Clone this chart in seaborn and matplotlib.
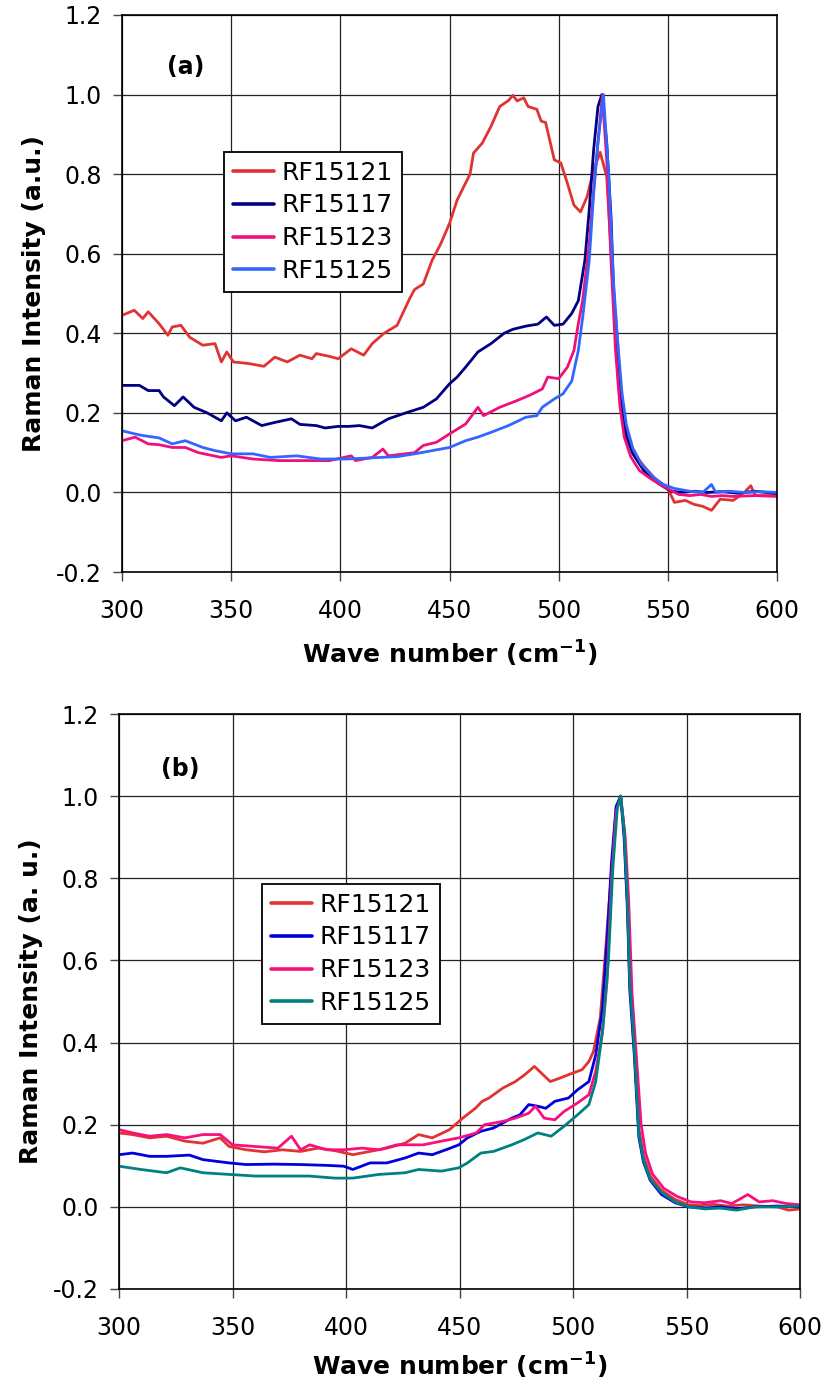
import numpy as np
import pandas as pd
import matplotlib
matplotlib.use("Agg")
import matplotlib.pyplot as plt
from matplotlib.ticker import FormatStrFormatter
import seaborn as sns

# ---------------- data: panel (a) ----------------
a_red_x = [300, 305.6, 309.5, 312, 317, 321, 323, 327, 331, 337, 342.6, 345.5, 348, 351, 358, 365, 370,
           375.7, 381.5, 387, 389, 395, 399, 405, 410.7, 414.6, 420, 426, 432, 434, 438, 442, 446, 450,
           453.5, 459.4, 461, 465, 469, 473, 477, 479, 481, 484, 486, 490, 492, 494, 498, 501, 504, 507,
           510, 513, 516, 519, 522, 525, 527, 529, 531, 534, 537, 540, 545, 550, 553, 558, 562, 566, 570,
           574, 580, 585, 588, 590, 595, 600]
a_red_y = [0.445, 0.458, 0.437, 0.454, 0.424, 0.395, 0.416, 0.42, 0.39, 0.37, 0.374, 0.328, 0.353, 0.328,
           0.324, 0.317, 0.34, 0.328, 0.345, 0.336, 0.349, 0.342, 0.336, 0.361, 0.345, 0.374, 0.40, 0.42,
           0.49, 0.51, 0.524, 0.583, 0.625, 0.676, 0.735, 0.80, 0.853, 0.878, 0.92, 0.97, 0.985, 0.998,
           0.984, 0.992, 0.97, 0.963, 0.933, 0.93, 0.836, 0.828, 0.777, 0.722, 0.705, 0.743, 0.81, 0.855,
           0.794, 0.515, 0.38, 0.21, 0.15, 0.11, 0.08, 0.06, 0.03, 0.01, -0.025, -0.02, -0.03, -0.035,
           -0.045, -0.017, -0.02, 0.0, 0.017, -0.008, -0.008, -0.008]

a_navy_x = [300, 308, 312, 317, 319, 324, 328, 333, 339, 345.5, 348, 352, 357, 364, 370, 377.6, 381.5,
            389, 393, 399, 404, 408.8, 414.6, 422, 430, 438, 444, 450, 453.5, 457.4, 463, 469, 475, 479,
            485, 490.5, 494.4, 498, 502, 506, 509, 512, 514, 516, 518, 519.8, 522, 524, 525.5, 527.5,
            529.4, 531, 534, 539, 545, 551, 556, 562, 568, 575, 582, 590, 600]
a_navy_y = [0.269, 0.269, 0.256, 0.256, 0.24, 0.218, 0.24, 0.214, 0.2, 0.18, 0.2, 0.18, 0.189, 0.168,
            0.176, 0.185, 0.171, 0.168, 0.162, 0.166, 0.166, 0.168, 0.162, 0.185, 0.2, 0.214, 0.235,
            0.273, 0.29, 0.315, 0.353, 0.374, 0.40, 0.41, 0.418, 0.423, 0.441, 0.42, 0.423, 0.45, 0.482,
            0.583, 0.71, 0.86, 0.97, 1.0, 0.88, 0.69, 0.457, 0.27, 0.19, 0.14, 0.097, 0.055, 0.025,
            0.004, 0.0, 0.003, 0.0, 0.002, -0.002, 0.003, -0.003]

a_pink_x = [300, 306, 312, 317, 323, 329, 335, 345.5, 350, 360, 372, 383.5, 395, 405, 407, 414.6, 419.5,
            422, 434, 438, 444, 450, 457.4, 463, 465.6, 473, 481, 486.6, 492.5, 495, 500, 504, 507, 509,
            511, 514, 516, 518, 520, 522, 524, 526, 528, 530, 533, 537, 542, 548, 555, 560, 565, 570, 575,
            580, 590, 600]
a_pink_y = [0.13, 0.139, 0.122, 0.12, 0.113, 0.113, 0.10, 0.088, 0.092, 0.084, 0.08, 0.08, 0.08, 0.092,
            0.08, 0.088, 0.109, 0.092, 0.10, 0.118, 0.126, 0.147, 0.172, 0.214, 0.193, 0.214, 0.231,
            0.244, 0.26, 0.29, 0.286, 0.315, 0.357, 0.424, 0.483, 0.625, 0.76, 0.88, 0.997, 0.836, 0.58,
            0.36, 0.22, 0.14, 0.09, 0.055, 0.035, 0.015, -0.005, -0.008, -0.005, -0.01, -0.008, -0.01,
            -0.008, -0.01]

a_blue_x = [300, 306, 309.5, 317, 323, 329, 337, 342.6, 350, 360, 368, 380, 391, 403, 414.6, 426, 434,
            442, 450, 457.4, 463, 469, 477, 485, 490, 492.5, 498, 502, 506, 509, 511, 514, 516, 518,
            520.5, 523, 525, 527, 529, 531, 534, 538, 543, 548, 553, 560, 566, 570, 572, 578, 585, 592,
            600]
a_blue_y = [0.155, 0.147, 0.143, 0.137, 0.122, 0.13, 0.113, 0.105, 0.097, 0.097, 0.088, 0.092, 0.084,
            0.084, 0.087, 0.09, 0.097, 0.105, 0.113, 0.13, 0.139, 0.151, 0.168, 0.189, 0.193, 0.214,
            0.235, 0.248, 0.28, 0.357, 0.44, 0.583, 0.75, 0.88, 1.0, 0.79, 0.54, 0.38, 0.25, 0.17, 0.11,
            0.07, 0.04, 0.02, 0.01, 0.003, 0.0, 0.02, 0.0, 0.003, 0.0, 0.002, 0.0]

# ---------------- data: panel (b) ----------------
b_red_x = [300, 306, 313.5, 321, 329, 337, 344.6, 348.5, 356, 364, 372, 380, 387.6, 395, 403, 410.6, 418,
           426, 432, 438, 445.6, 451.4, 457, 460, 463, 469, 474.6, 478.6, 483, 486, 490, 494, 500, 504,
           507, 509, 512, 514, 517, 519, 521, 522.5, 524, 525, 527, 529, 531, 534, 539, 545, 551, 556,
           562, 568, 575, 582, 590, 595, 600]
b_red_y = [0.18, 0.176, 0.168, 0.172, 0.16, 0.155, 0.168, 0.147, 0.139, 0.134, 0.139, 0.135, 0.143,
           0.137, 0.127, 0.135, 0.143, 0.155, 0.176, 0.168, 0.188, 0.216, 0.24, 0.257, 0.265, 0.289,
           0.305, 0.321, 0.342, 0.326, 0.305, 0.313, 0.326, 0.334, 0.354, 0.378, 0.46, 0.60, 0.82, 0.97,
           1.0, 0.92, 0.74, 0.55, 0.386, 0.19, 0.125, 0.075, 0.04, 0.018, 0.005, 0.003, 0.006, 0.002,
           0.005, 0.002, 0.0, -0.008, -0.005]

b_blue_x = [300, 306, 313.5, 321, 331, 337, 348.5, 356, 368, 380, 391.6, 399, 403, 410.6, 418, 426, 432,
            438, 444, 449.7, 453.5, 459.4, 465, 469, 473, 476.6, 480.5, 484.5, 488, 492, 498, 502, 507,
            510, 513, 515, 517, 519, 521, 522.5, 524, 525, 527, 529, 531, 534, 539, 545, 551, 558, 565,
            572, 580, 590, 600]
b_blue_y = [0.127, 0.131, 0.123, 0.123, 0.126, 0.115, 0.107, 0.103, 0.104, 0.103, 0.101, 0.099, 0.091,
            0.107, 0.107, 0.119, 0.131, 0.127, 0.139, 0.151, 0.168, 0.184, 0.192, 0.204, 0.216, 0.224,
            0.249, 0.245, 0.24, 0.257, 0.265, 0.285, 0.305, 0.37, 0.483, 0.65, 0.84, 0.975, 1.0, 0.90,
            0.72, 0.53, 0.37, 0.17, 0.11, 0.065, 0.03, 0.01, 0.0, -0.003, 0.0, -0.005, 0.0, 0.002, 0.0]

b_pink_x = [300, 306, 313.5, 321, 329, 337, 344.6, 350, 360, 370, 376, 380, 384, 391.6, 399, 407, 414.6,
            422.4, 434, 442, 449.7, 457.4, 461, 469, 474.6, 480.5, 483.5, 487.3, 492, 496, 502, 507, 510,
            513, 515, 517, 519, 521, 523, 524.5, 526, 528, 530, 532, 535, 540, 546, 552, 558, 565, 570,
            577, 582, 588, 594, 600]
b_pink_y = [0.188, 0.18, 0.172, 0.176, 0.168, 0.176, 0.176, 0.151, 0.147, 0.143, 0.172, 0.139, 0.151,
            0.139, 0.139, 0.143, 0.139, 0.151, 0.151, 0.16, 0.168, 0.18, 0.20, 0.208, 0.216, 0.228, 0.245,
            0.216, 0.212, 0.232, 0.253, 0.273, 0.33, 0.427, 0.55, 0.80, 0.96, 1.0, 0.90, 0.75, 0.52, 0.36,
            0.20, 0.13, 0.08, 0.045, 0.025, 0.012, 0.01, 0.015, 0.008, 0.03, 0.012, 0.015, 0.008, 0.005]

b_teal_x = [300, 309.7, 321, 327, 337, 348.5, 360, 372, 383.7, 395, 403, 414.6, 426, 432, 442, 449.7,
            453.5, 459.4, 465, 473, 478.6, 484.5, 490.4, 496, 502, 507, 510, 513, 515.6, 517.5, 519.5,
            521, 522.5, 524, 525, 527, 529, 531, 534, 539, 545, 551, 558, 565, 572, 580, 590, 600]
b_teal_y = [0.099, 0.091, 0.083, 0.095, 0.083, 0.079, 0.075, 0.075, 0.075, 0.07, 0.07, 0.079, 0.083,
            0.091, 0.087, 0.095, 0.107, 0.131, 0.135, 0.151, 0.164, 0.18, 0.172, 0.196, 0.224, 0.249,
            0.305, 0.427, 0.60, 0.82, 0.97, 1.0, 0.92, 0.74, 0.55, 0.39, 0.18, 0.115, 0.068, 0.035, 0.012,
            0.0, -0.005, -0.003, -0.008, 0.0, 0.0, 0.002]

samples = ["RF15121", "RF15117", "RF15123", "RF15125"]
colors_a = ["#e23333", "#000080", "#f0107a", "#3366ff"]
colors_b = ["#e23333", "#0000dd", "#f8107e", "#008080"]

x_ticks = [300, 350, 400, 450, 500, 550, 600]
y_ticks = [-0.2, 0.0, 0.2, 0.4, 0.6, 0.8, 1.0, 1.2]

# ---------------- style ----------------
sns.set_theme(style="white")
plt.rcParams["font.family"] = ["DejaVu Sans"]
plt.rcParams["mathtext.fontset"] = "dejavusans"
plt.rcParams["text.color"] = "black"
plt.rcParams["axes.labelcolor"] = "black"
plt.rcParams["xtick.color"] = "black"
plt.rcParams["ytick.color"] = "black"

W, H = 827, 1384
fig = plt.figure(figsize=(W / 100, H / 100), dpi=100)


def rect(l, r, t, b):
    return [l / W, 1 - b / H, (r - l) / W, (b - t) / H]


def panel(ax, xs, ys, colors, ylabel, tag, tag_xy, leg_anchor, xlabelpad):
    frames = []
    for name, x, y in zip(samples, xs, ys):
        frames.append(pd.DataFrame({"wn": x, "I": y, "sample": name}))
    df = pd.concat(frames, ignore_index=True)
    sns.lineplot(data=df, x="wn", y="I", hue="sample", hue_order=samples,
                 palette=dict(zip(samples, colors)), estimator=None, sort=False,
                 linewidth=2.0, ax=ax)
    ax.set_xlim(300, 600)
    ax.set_ylim(-0.2, 1.2)
    ax.set_xticks(x_ticks)
    ax.set_yticks(y_ticks)
    ax.yaxis.set_major_formatter(FormatStrFormatter("%.1f"))
    ax.set_axisbelow(True)
    ax.grid(True, color="#222222", linewidth=0.9)
    for s in ax.spines.values():
        s.set_color("black")
        s.set_linewidth(1.2)
    ax.tick_params(axis="both", direction="out", length=6.5, width=1, color="#444444",
                   labelsize=17, labelcolor="black", bottom=True, left=True)
    ax.tick_params(axis="x", pad=13)
    ax.tick_params(axis="y", pad=8)
    ax.set_xlabel(r"Wave number (cm$^{\mathbf{-1}}$)", fontsize=18, fontweight="bold",
                  labelpad=xlabelpad, color="black")
    ax.set_ylabel(ylabel, fontsize=18, fontweight="bold", labelpad=7, color="black")
    ax.text(tag_xy[0], tag_xy[1], tag, fontsize=17, fontweight="bold", ha="center", va="center",
            color="black")
    handles, labels = ax.get_legend_handles_labels()
    leg = ax.legend(handles, labels, loc="upper left", bbox_to_anchor=leg_anchor,
                    bbox_transform=ax.transAxes, borderaxespad=0, fontsize=18,
                    frameon=True, fancybox=False, framealpha=1, edgecolor="black",
                    handlelength=1.65, handletextpad=0.3, labelspacing=0.35,
                    borderpad=0.35)
    leg.get_frame().set_linewidth(1.3)
    for t in leg.get_texts():
        t.set_color("black")
    for ln in leg.get_lines():
        ln.set_linewidth(2.6)


ax_a = fig.add_axes(rect(122, 777, 15, 572))
panel(ax_a, [a_red_x, a_navy_x, a_pink_x, a_blue_x], [a_red_y, a_navy_y, a_pink_y, a_blue_y],
      colors_a, "Raman Intensity (a.u.)", "(a)", (329, 1.069),
      ((224 - 122) / 655, 1 - (152 - 15) / 557), 11)

ax_b = fig.add_axes(rect(119, 800, 714, 1289))
panel(ax_b, [b_red_x, b_blue_x, b_pink_x, b_teal_x], [b_red_y, b_blue_y, b_pink_y, b_teal_y],
      colors_b, "Raman Intensity (a. u.)", "(b)", (327, 1.066),
      ((262 - 119) / 681, 1 - (884 - 714) / 575), 8)

fig.savefig("out.png", dpi=100, facecolor="white")
